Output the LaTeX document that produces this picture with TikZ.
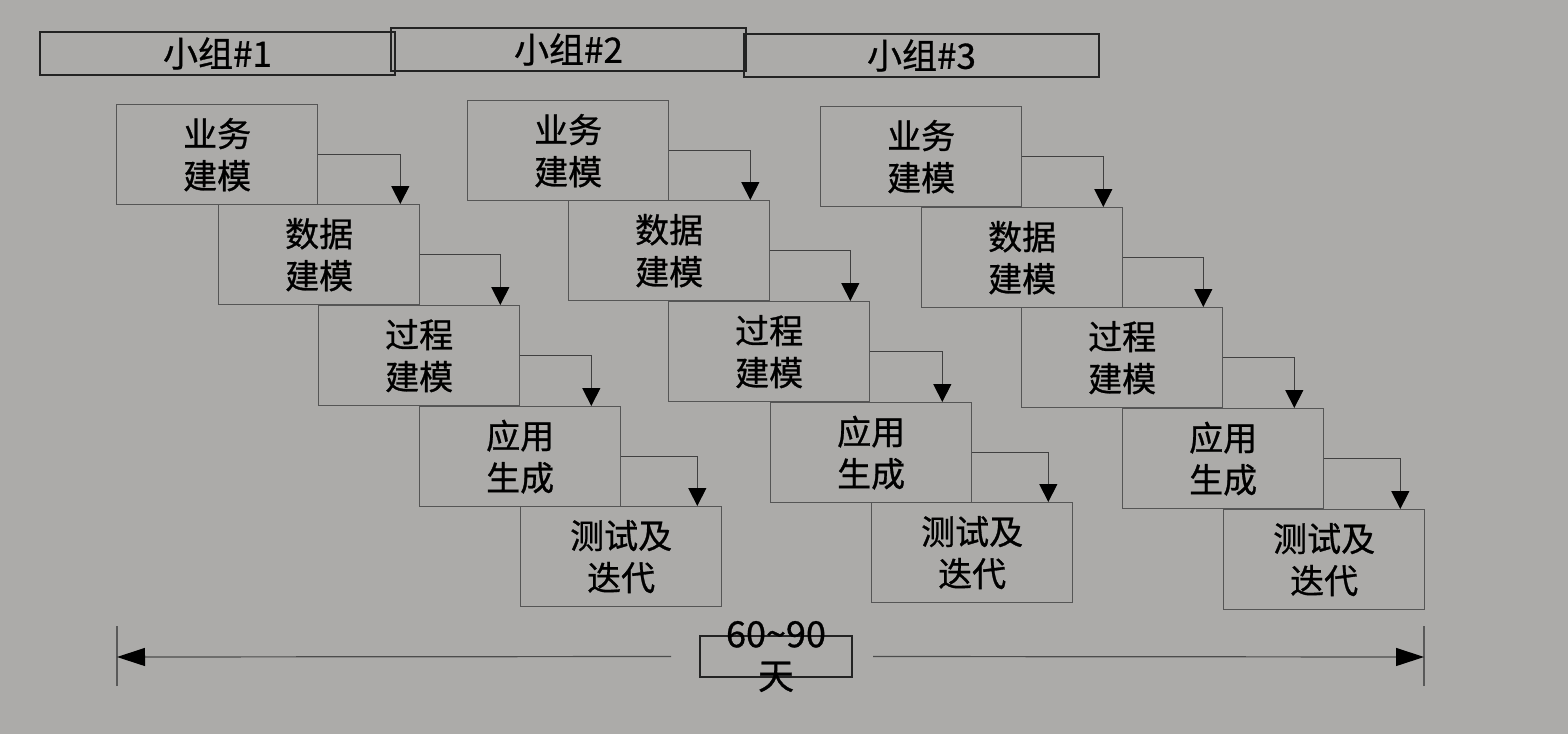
\documentclass[tikz,border=0pt]{standalone}
\usepackage{fontspec}
\setmainfont{Noto Sans CJK SC}[FakeBold=0.8]
\usetikzlibrary{arrows.meta}
\definecolor{bg}{RGB}{172,171,169}
\definecolor{boxline}{RGB}{85,85,85}
\definecolor{hdrline}{RGB}{35,35,35}
\tikzset{
  stepbox/.style={draw=boxline, line width=1.3pt, minimum width=201pt, minimum height=100pt,
    inner sep=0pt, anchor=north west, align=center, font=\fontsize{34}{42}\selectfont},
  hdr/.style={draw=hdrline, line width=2pt, minimum width=355pt, minimum height=43pt,
    inner sep=0pt, anchor=north west, font=\fontsize{35}{40}\selectfont},
  flow/.style={draw=black!75, line width=1pt, -{Triangle[length=18pt,width=18pt,color=black]}},
  dimarr/.style={draw=black!70, line width=1.2pt, -{Triangle[length=28pt,width=18pt,color=black]}},
  tick/.style={draw=black!65, line width=1.3pt},
}
\begin{document}
\begin{tikzpicture}[x=1pt,y=-1pt]
\fill[bg] (0,0) rectangle (1568,734);
\useasboundingbox (0,0) rectangle (1568,734);

% headers
\node[hdr] (h1) at (39,31) {小组\#1};
\node[hdr] (h2) at (390,27) {小组\#2};
\node[hdr] (h3) at (743,33) {小组\#3};

% group 1
\node[stepbox] (a1) at (116,104) {业务\\建模};
\node[stepbox] (a2) at (218,204) {数据\\建模};
\node[stepbox] (a3) at (318,305) {过程\\建模};
\node[stepbox] (a4) at (419,406) {应用\\生成};
\node[stepbox] (a5) at (520,506) {测试及\\迭代};
% group 2
\node[stepbox] (b1) at (467,100) {业务\\建模};
\node[stepbox] (b2) at (568,200) {数据\\建模};
\node[stepbox] (b3) at (668,301) {过程\\建模};
\node[stepbox] (b4) at (770,402) {应用\\生成};
\node[stepbox] (b5) at (871,502) {测试及\\迭代};
% group 3
\node[stepbox] (c1) at (820,106) {业务\\建模};
\node[stepbox] (c2) at (921,207) {数据\\建模};
\node[stepbox] (c3) at (1021,307) {过程\\建模};
\node[stepbox] (c4) at (1122,408) {应用\\生成};
\node[stepbox] (c5) at (1223,509) {测试及\\迭代};

\foreach \g in {a,b,c}{
  \draw[flow] (\g1.east) -| ([xshift=-20pt]\g2.north east);
  \draw[flow] (\g2.east) -| ([xshift=-20pt]\g3.north east);
  \draw[flow] (\g3.east) -| ([xshift=-30pt]\g4.north east);
  \draw[flow] (\g4.east) -| ([xshift=-25pt]\g5.north east);
}

% duration
\coordinate (tl) at (117,657);
\coordinate (tr) at (1424,657);
\draw[tick] ([yshift=-29pt]tl) -- ([yshift=31pt]tl);
\draw[tick] ([yshift=-29pt]tr) -- ([yshift=31pt]tr);
\node[draw=hdrline, line width=2pt, minimum width=152pt, minimum height=41pt, inner sep=0pt] (d) at (776,656.5) {};
\node[align=center, font=\fontsize{36}{42}\selectfont, inner sep=0pt] (dt) at (d.center) {60\textasciitilde90\\天};
\draw[dimarr] ([xshift=-28pt]d.west) -- (tl);
\draw[dimarr] ([xshift=20pt]d.east) -- (tr);
\end{tikzpicture}
\end{document}
